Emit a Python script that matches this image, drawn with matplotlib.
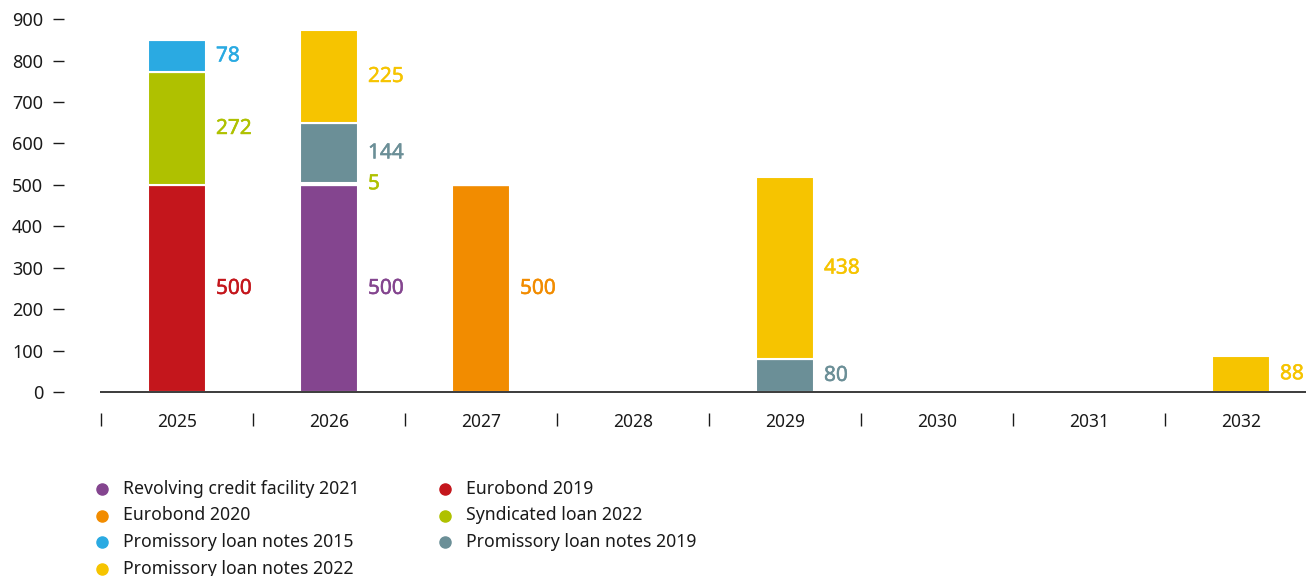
"""Maturity profile of financial liabilities (EUR m)"""

import numpy as np
import matplotlib
matplotlib.use('Agg')
import matplotlib.pyplot as plt
import matplotlib.patheffects as pe
from matplotlib.lines import Line2D

plt.rcParams['font.family'] = ['Noto Sans', 'DejaVu Sans']

years = ['2025', '2026', '2027', '2028', '2029', '2030', '2031', '2032']

# one list per instrument, stacked bottom to top in this order
rcf_2021 = [0, 500, 0, 0, 0, 0, 0, 0]
eurobond_2019 = [500, 0, 0, 0, 0, 0, 0, 0]
eurobond_2020 = [0, 0, 500, 0, 0, 0, 0, 0]
syndicated_2022 = [272, 5, 0, 0, 0, 0, 0, 0]
pln_2019 = [0, 144, 0, 0, 80, 0, 0, 0]
pln_2015 = [78, 0, 0, 0, 0, 0, 0, 0]
pln_2022 = [0, 225, 0, 0, 438, 0, 0, 88]

series = [
    ('Revolving credit facility 2021', rcf_2021, '#84458f'),
    ('Eurobond 2019', eurobond_2019, '#c4161c'),
    ('Eurobond 2020', eurobond_2020, '#f28c00'),
    ('Syndicated loan 2022', syndicated_2022, '#afc100'),
    ('Promissory loan notes 2019', pln_2019, '#6b8f97'),
    ('Promissory loan notes 2015', pln_2015, '#2aaae2'),
    ('Promissory loan notes 2022', pln_2022, '#f6c400'),
]
legend_order = [
    'Revolving credit facility 2021', 'Eurobond 2020',
    'Promissory loan notes 2015', 'Promissory loan notes 2022',
    'Eurobond 2019', 'Syndicated loan 2022', 'Promissory loan notes 2019',
]

W, H = 1306, 576
fig = plt.figure(figsize=(W / 100, H / 100), dpi=100)
ax = fig.add_axes([100 / W, 1 - 400 / H, 1206 / W, 395 / H])

x = np.arange(len(years))
width = 0.38
bottom = np.zeros(len(years))
for name, vals, col in series:
    vals = np.array(vals, dtype=float)
    ax.bar(x, vals, width, bottom=bottom, color=col, edgecolor='white',
           linewidth=1.5, zorder=2)
    for i, v in enumerate(vals):
        if v > 0:
            ax.text(x[i] + width / 2 + 0.066, bottom[i] + v / 2, '%d' % v,
                    color=col, fontsize=15, ha='left', va='center',
                    path_effects=[pe.withStroke(linewidth=0.35,
                                                foreground=col)])
    bottom += vals

ax.axhline(0, color='#1a1a1a', lw=1.2, zorder=3)

ax.set_xlim(-0.507, 7.427)
ax.set_ylim(-19.3, 934)
ax.set_yticks(np.arange(0, 901, 100))
ax.set_xticks(x)
ax.set_xticklabels(years)
ax.set_xticks(np.arange(-0.5, 7, 1), minor=True)

for s in ['top', 'right']:
    ax.spines[s].set_visible(False)
ax.spines['left'].set_position(('outward', 26))
ax.spines['left'].set_visible(False)
ax.spines['bottom'].set_position(('outward', 9.5))
ax.spines['bottom'].set_visible(False)

ax.tick_params(axis='y', length=8, width=1, color='#1a1a1a', pad=7,
               labelsize=13, labelcolor='#1a1a1a')
ax.tick_params(axis='x', which='major', length=0, pad=0, labelsize=12.5,
               labelcolor='#1a1a1a')
ax.tick_params(axis='x', which='minor', length=9, width=1, color='#1a1a1a')

# legend laid out in two columns below the chart
colours = {name: col for name, _, col in series}
for k, name in enumerate(legend_order):
    col, row = divmod(k, 4)
    px = 102 + col * 343
    py = 489 + row * 26.5
    fig.add_artist(Line2D([px / W], [1 - py / H], marker='o', markersize=8,
                          color=colours[name], linestyle='none',
                          transform=fig.transFigure))
    fig.text((px + 21) / W, 1 - py / H, name, fontsize=12.7, color='#1a1a1a',
             ha='left', va='center')

fig.savefig('out.png', dpi=100)
